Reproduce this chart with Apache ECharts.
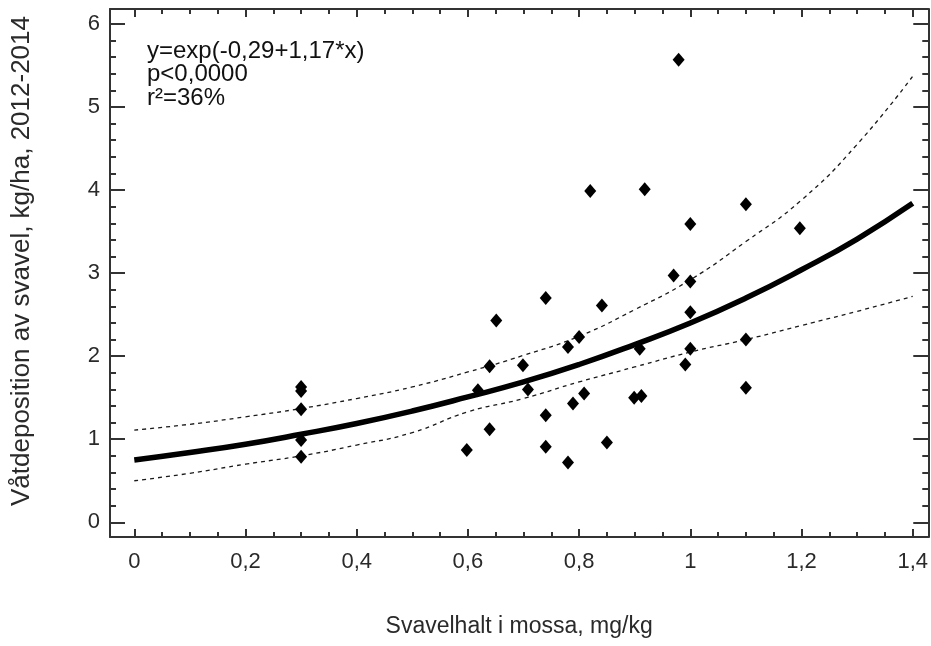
<!DOCTYPE html>
<html>
<head>
<meta charset="utf-8">
<script src="https://cdn.jsdelivr.net/npm/echarts@6/dist/echarts.min.js"></script>
<style>
html,body{margin:0;padding:0;background:#fff;}
#chart{width:931px;height:646px;}
</style>
</head>
<body>
<div id="chart"></div>
<script>
// ---- data ----
var pointX = [0.3,0.3,0.3,0.3,0.3,0.598,0.618,0.639,0.639,0.651,0.699,0.708,0.74,0.74,0.74,0.78,0.78,0.789,0.80,0.809,0.82,0.841,0.85,0.899,0.909,0.912,0.918,0.97,0.979,0.991,1.0,1.0,1.0,1.0,1.10,1.10,1.10,1.197];
var pointY = [1.63,1.58,1.36,0.99,0.79,0.87,1.59,1.12,1.88,2.43,1.89,1.60,2.70,1.29,0.91,2.11,0.72,1.43,2.23,1.55,3.99,2.61,0.96,1.50,2.09,1.52,4.01,2.97,5.57,1.90,3.59,2.90,2.53,2.09,3.83,2.20,1.62,3.54];

var curveX = [0,0.1,0.2,0.3,0.4,0.5,0.6,0.7,0.8,0.9,1.0,1.1,1.2,1.3,1.4];
var fitY   = [0.75,0.84,0.94,1.06,1.19,1.34,1.51,1.69,1.90,2.14,2.40,2.70,3.04,3.41,3.84];
var upperY = [1.11,1.18,1.27,1.37,1.49,1.63,1.81,2.01,2.24,2.56,2.92,3.38,3.88,4.55,5.37];
var lowerY = [0.50,0.59,0.70,0.80,0.93,1.08,1.33,1.49,1.69,1.87,2.05,2.20,2.37,2.54,2.72];

var xTicks = [0,0.2,0.4,0.6,0.8,1.0,1.2,1.4];
var yTicks = [0,1,2,3,4,5,6];

var annotationLines = ['y=exp(-0,29+1,17*x)','p<0,0000','r\u00B2=36%'];
var xTitle = 'Svavelhalt i mossa, mg/kg';
var yTitle = 'V\u00E5tdeposition av svavel, kg/ha, 2012-2014';

// ---- helpers ----
function zip(a,b){var r=[];for(var i=0;i<a.length;i++)r.push([a[i],b[i]]);return r;}
function minors(step, lo, hi, majorStep){
  var r=[];
  for(var k=Math.ceil(lo/step);k*step<=hi;k++){
    var v=Math.round(k*step*1000)/1000;
    if(Math.abs(v/majorStep-Math.round(v/majorStep))>1e-6) r.push(v);
  }
  return r;
}
var XMIN=-0.0437, XMAX=1.428, YMIN=-0.177, YMAX=6.18;
var xMinor = minors(0.05, XMIN, XMAX, 0.2);
var yMinor = minors(0.2, YMIN, YMAX, 1);

var FONT = '"Liberation Sans", Arial, sans-serif';
var AX = '#333';
var TXT = '#2a2a2a';
function fmt(v){return String(Math.round(v*10)/10).replace('.',',');}

function xAx(pos, custom, len, showLine, labels, extra){
  var o = {
    type:'value', position:pos, min:XMIN, max:XMAX, scale:true,
    splitLine:{show:false},
    axisLine:{show:showLine, onZero:false, lineStyle:{color:AX,width:2}},
    axisTick:{show:true, inside:true, length:len, customValues:custom, lineStyle:{color:AX,width:2}},
    axisLabel:{show:labels, customValues:custom, formatter:fmt, color:TXT, fontFamily:FONT, fontSize:22, margin:14}
  };
  if(extra) for(var k in extra) o[k]=extra[k];
  return o;
}
function yAx(pos, custom, len, showLine, labels, extra){
  var o = {
    type:'value', position:pos, min:YMIN, max:YMAX, scale:true,
    splitLine:{show:false},
    axisLine:{show:showLine, onZero:false, lineStyle:{color:AX,width:2}},
    axisTick:{show:true, inside:true, length:len, customValues:custom, lineStyle:{color:AX,width:2}},
    axisLabel:{show:labels, customValues:custom, formatter:fmt, color:TXT, fontFamily:FONT, fontSize:22, margin:10}
  };
  if(extra) for(var k in extra) o[k]=extra[k];
  return o;
}

var chart = echarts.init(document.getElementById('chart'), null, {renderer:'canvas'});
chart.setOption({
  animation:false,
  backgroundColor:'#fff',
  grid:{left:110, right:1, top:9, bottom:109, containLabel:false},
  xAxis:[
    xAx('bottom', xTicks, 8, true, true, {
      name:xTitle, nameLocation:'middle', nameGap:78,
      nameTextStyle:{color:TXT, fontFamily:FONT, fontSize:23}
    }),
    xAx('bottom', xMinor, 5, false, false),
    xAx('top', xTicks, 8, true, false),
    xAx('top', xMinor, 5, false, false)
  ],
  yAxis:[
    yAx('left', yTicks, 15, true, true),
    yAx('left', yMinor, 6, false, false),
    yAx('right', yTicks, 15, true, false),
    yAx('right', yMinor, 6, false, false)
  ],
  series:[
    {type:'line', name:'upper', data:zip(curveX, upperY), smooth:true, symbol:'none',
     lineStyle:{color:'#1a1a1a', width:1.3, type:[4,4]}, z:2},
    {type:'line', name:'lower', data:zip(curveX, lowerY), smooth:true, symbol:'none',
     lineStyle:{color:'#1a1a1a', width:1.3, type:[4,4]}, z:2},
    {type:'line', name:'fit', data:zip(curveX, fitY), smooth:true, symbol:'none',
     lineStyle:{color:'#000', width:5.5}, z:3},
    {type:'scatter', name:'obs', data:zip(pointX, pointY), symbol:'diamond', symbolSize:[12,14],
     itemStyle:{color:'#000', opacity:1}, z:4}
  ],
  graphic:[
    {type:'text', left:147, top:39,
     style:{text:annotationLines.join('\n'), fill:'#111', font:'24px ' + FONT, lineHeight:23.5}},
    {type:'text', x:22, y:261, rotation:Math.PI/2,
     style:{text:yTitle, fill:TXT, font:'26px ' + FONT, align:'center', verticalAlign:'middle'}}
  ]
});
</script>
</body>
</html>
